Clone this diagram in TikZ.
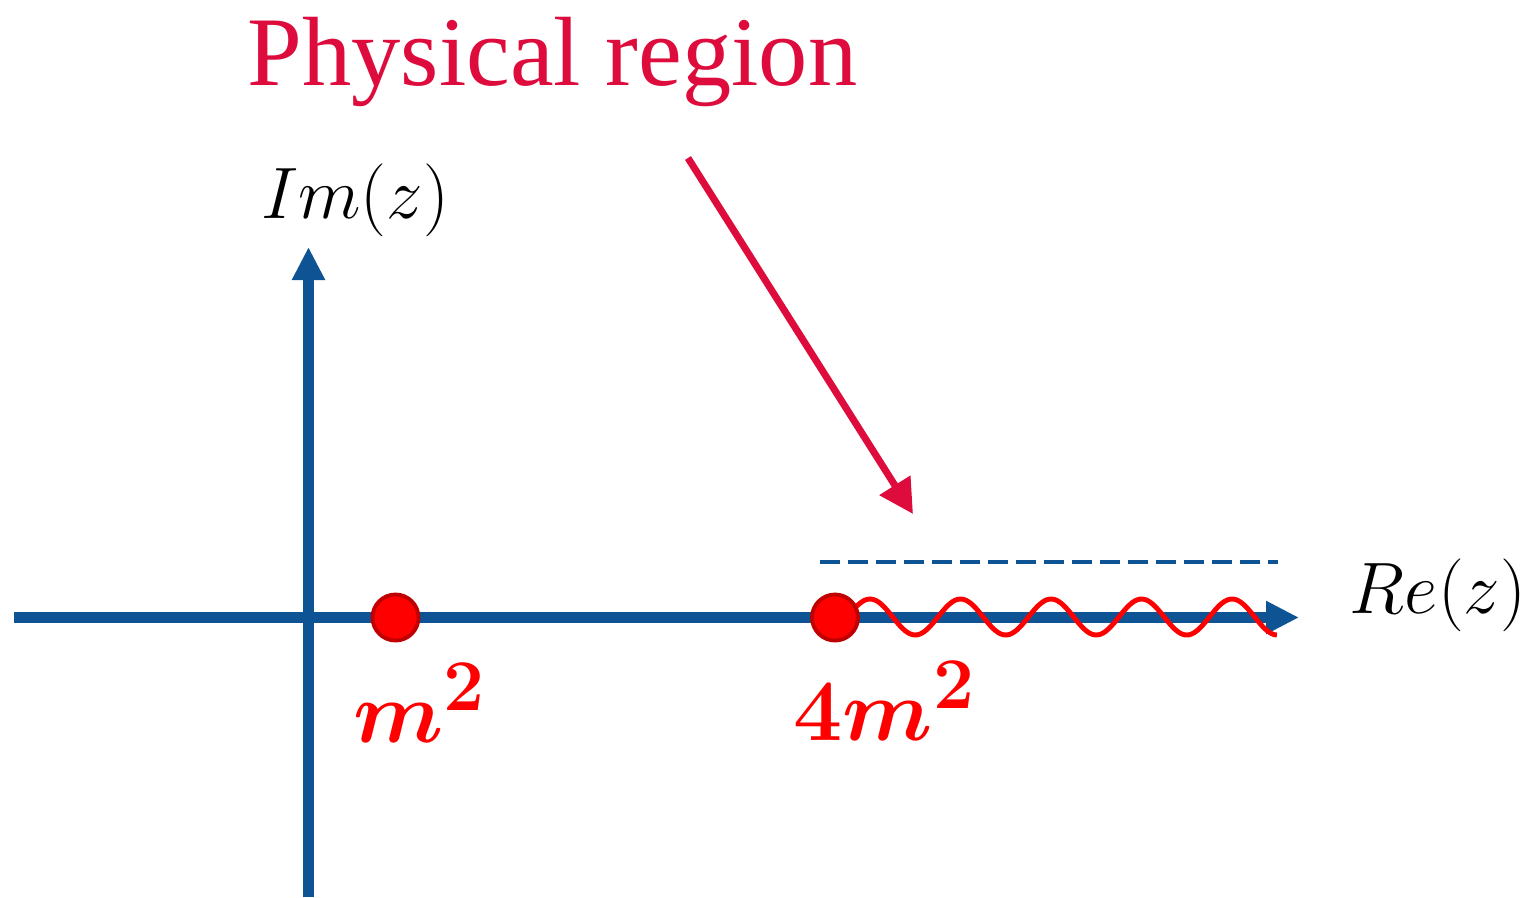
\documentclass[tikz,border=0pt]{standalone}
\usepackage{fontspec}
\newfontfamily\titlefont{Liberation Serif}
\usetikzlibrary{arrows.meta,positioning,calc}
\definecolor{axisblue}{RGB}{14,83,148}
\definecolor{physred}{RGB}{221,12,61}
\definecolor{dotred}{RGB}{255,0,0}
\definecolor{dotrim}{RGB}{192,0,0}

\begin{document}
\begin{tikzpicture}[x=1cm,y=1cm,
 axis/.style={draw=axisblue,line width=3.1pt,-{Triangle[length=3.3mm,width=3.1mm]}},
 pole/.style={circle,draw=dotrim,fill=dotred,line width=1.1pt,minimum size=4.6mm,inner sep=0pt},
 polelabel/.style={anchor=base west,text=dotred,font=\fontsize{30}{36}\selectfont\boldmath,inner sep=0pt},
 axlabel/.style={anchor=base,font=\fontsize{22.3}{27}\selectfont,inner sep=0pt},
 cutline/.style={draw=axisblue,line width=1.1pt,dash pattern=on 2mm off 0.8mm},
 pointer/.style={draw=physred,line width=2pt,-{Triangle[length=3.4mm,width=3.5mm]}}]
\useasboundingbox (0,0) rectangle (15.38,-8.97);
% axes
\coordinate (reL) at (0.14,-6.175);
\coordinate (reR) at (12.99,-6.175);
\coordinate (imB) at (3.085,-8.97);
\coordinate (imT) at (3.085,-2.47);
\draw[axis] (reL)--(reR);
\draw[axis] (imB)--(imT);
\node[axlabel] (imlab) at (3.55,-2.18) {$Im(z)$};
\node[axlabel] (relab) at (14.38,-6.13) {$Re(z)$};
% branch cut
\coordinate (cutL) at (8.20,-5.62);
\coordinate (cutR) at (12.78,-5.62);
\draw[cutline] (cutL)--(cutR);
\draw[dotred,line width=1.4pt] plot[domain=8.53:12.77,samples=180,smooth] (\x,{-6.17+0.18*sin(360*(\x-8.474)/0.905)});
% poles
\node[pole] (mone) at (3.955,-6.175) {};
\node[pole] (mtwo) at (8.35,-6.175) {};
\node[polelabel] (monelab) at (3.53,-7.42) {$m^2$};
\node[polelabel] (mtwolab) at (7.93,-7.40) {$4m^2$};
% physical region
\node[anchor=base,text=physred,font=\titlefont\fontsize{28}{34}\selectfont,inner sep=0pt] (phys) at (5.525,-0.85) {Physical region};
\coordinate (pStart) at (6.88,-1.58);
\coordinate (pEnd) at (9.13,-5.14);
\draw[pointer] (pStart)--(pEnd);
\end{tikzpicture}
\end{document}
